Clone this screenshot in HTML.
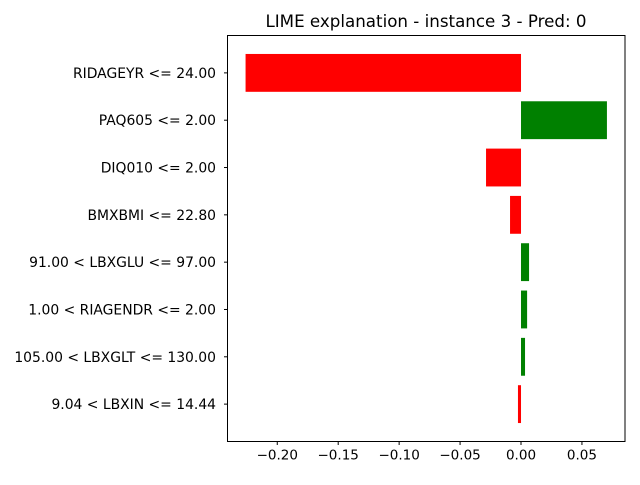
<!DOCTYPE html>
<html><head><meta charset="utf-8"><style>
body{margin:0;background:#fff;}
svg text{font-family:"DejaVu Sans","Liberation Sans",sans-serif;}
</style></head><body>
<svg id="chart" width="640" height="480" xmlns="http://www.w3.org/2000/svg">
<rect width="640" height="480" fill="#fff"/>
<text x="426" y="27" font-size="16.7" text-anchor="middle">LIME explanation - instance 3 - Pred: 0</text>
<g id="bars"></g>
<g id="xticks"></g>
<g id="yticks"></g>
<rect x="227.5" y="35.5" width="397.5" height="406" fill="none" stroke="#000" stroke-width="1"/>
</svg>
<script>
const features = ["RIDAGEYR <= 24.00","PAQ605 <= 2.00","DIQ010 <= 2.00","BMXBMI <= 22.80","91.00 < LBXGLU <= 97.00","1.00 < RIAGENDR <= 2.00","105.00 < LBXGLT <= 130.00","9.04 < LBXIN <= 14.44"];
const weights = [-0.226, 0.0705, -0.0287, -0.009, 0.0066, 0.005, 0.0033, -0.0025];
const xTicks = [-0.20, -0.15, -0.10, -0.05, 0.00, 0.05];
const xTickLabels = ["\u22120.20","\u22120.15","\u22120.10","\u22120.05","0.00","0.05"];

const NS="http://www.w3.org/2000/svg";
const L=227.5,R=625,T=35.5,B=441.5;
const minW=Math.min(0,...weights),maxW=Math.max(0,...weights);
const pad=(maxW-minW)*0.05;
const x0=minW-pad,x1=maxW+pad;
const xs=v=>L+(v-x0)/(x1-x0)*(R-L);
const n=features.length;
const ylo=-0.4-0.05*(n-1+0.8),yhi=n-1+0.4+0.05*(n-1+0.8);
const ys=i=>T+(i-ylo)/(yhi-ylo)*(B-T);
const bh=0.8*(B-T)/(yhi-ylo);
function mk(t,a,p){const e=document.createElementNS(NS,t);for(const k in a)e.setAttribute(k,a[k]);p.appendChild(e);return e;}
const gb=document.getElementById('bars'),gx=document.getElementById('xticks'),gy=document.getElementById('yticks');
weights.forEach((w,i)=>{
  const a=xs(0),b=xs(w);
  const r=mk('rect',{x:Math.min(a,b),y:ys(i)-bh/2,width:Math.abs(b-a),height:bh,fill:w>=0?'#008000':'#ff0000'},gb);
  
  
  mk('line',{x1:L-3.5,x2:L,y1:ys(i),y2:ys(i),stroke:'#000'},gy);
  const t=mk('text',{x:L-11.5,y:ys(i)+5,'font-size':'13.9','text-anchor':'end'},gy);
  t.textContent=features[i];
  
  
});
xTicks.forEach((v,i)=>{
  const x=xs(v);
  mk('line',{x1:x,x2:x,y1:B,y2:B+3.5,stroke:'#000'},gx);
  const t=mk('text',{x:x,y:B+18,'font-size':'13.5','text-anchor':'middle'},gx);
  t.textContent=xTickLabels[i];
  
  
});
</script>
</body></html>
